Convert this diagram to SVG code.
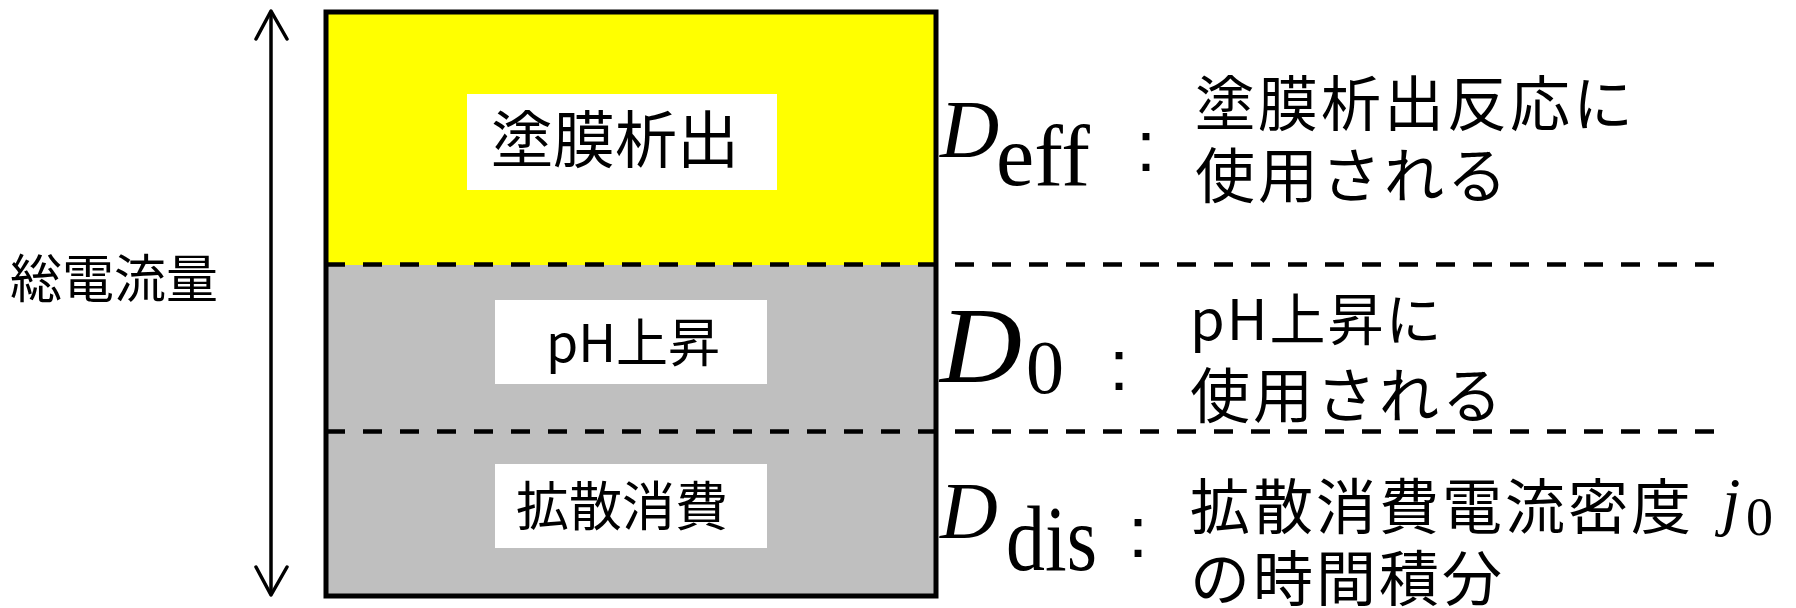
<svg xmlns="http://www.w3.org/2000/svg" width="1796" height="608" viewBox="0 0 1796 608">
<style>
.jp{font-family:"Noto Sans CJK JP","Noto Sans",sans-serif;fill:#000}
.tex{font-family:"Liberation Serif","Times New Roman",serif;fill:#000}
.it{font-style:italic}
.col{font-family:"Liberation Sans",Arial,sans-serif;fill:#000}
.dash{stroke:#000;stroke-width:4.5;stroke-dasharray:19 18;fill:none}
.lbl{fill:#fff}
.ax{stroke:#000;stroke-width:3.5;fill:none;stroke-linecap:round;stroke-linejoin:round}
</style>
<rect width="1796" height="608" fill="#fff"/>
<g id="bar">
<rect x="326" y="12" width="610" height="253" fill="#ffff00"/>
<rect x="326" y="265" width="610" height="331" fill="#bfbfbf"/>
<rect x="326" y="12" width="610" height="584" fill="none" stroke="#000" stroke-width="5"/>
</g>
<g id="connectors">
<line class="dash" x1="326" y1="264.5" x2="1727" y2="264.5"/>
<line class="dash" x1="326" y1="431.5" x2="1727" y2="431.5"/>
<line class="ax" x1="271" y1="12" x2="271" y2="594"/>
<polyline class="ax" points="256,39 271,11 287,39"/>
<polyline class="ax" points="256,567 271,595 287,567"/>
</g>
<g id="total">
<text class="jp" x="10" y="298" font-size="52">総電流量</text>
</g>
<g id="node-coating">
<rect class="lbl" x="467" y="94" width="310" height="96"/>
<text class="jp" x="615" y="163" font-size="62" text-anchor="middle">塗膜析出</text>
</g>
<g id="node-ph">
<rect class="lbl" x="495" y="300" width="272" height="84"/>
<text class="jp" x="633" y="362" font-size="52" text-anchor="middle">pH上昇</text>
</g>
<g id="node-dis">
<rect class="lbl" x="495" y="464" width="272" height="84"/>
<text class="jp" x="622" y="526" font-size="53" text-anchor="middle">拡散消費</text>
</g>
<g id="desc-eff">
<text class="tex it" x="940" y="157" font-size="82">D</text>
<text class="tex" x="996" y="185" font-size="86" textLength="94" lengthAdjust="spacingAndGlyphs">eff</text>
<text class="col" x="1136" y="171" font-size="72">:</text>
<text class="jp" x="1195" y="126" font-size="60" letter-spacing="3">塗膜析出反応に</text>
<text class="jp" x="1195" y="198" font-size="60" letter-spacing="3">使用される</text>
</g>
<g id="desc-0">
<text class="tex it" x="940" y="382" font-size="108" textLength="82" lengthAdjust="spacingAndGlyphs">D</text>
<text class="tex" x="1026" y="393" font-size="76">0</text>
<text class="col" x="1109" y="390" font-size="72">:</text>
<text class="jp" x="1190" y="340" font-size="56" letter-spacing="2">pH上昇に</text>
<text class="jp" x="1190" y="418" font-size="60" letter-spacing="3">使用される</text>
</g>
<g id="desc-dis">
<text class="tex it" x="940" y="538" font-size="80">D</text>
<text class="tex" x="1006" y="570" font-size="94" textLength="91" lengthAdjust="spacingAndGlyphs">dis</text>
<text class="col" x="1128" y="557" font-size="72">:</text>
<text class="jp" x="1190" y="529" font-size="60" letter-spacing="3">拡散消費電流密度</text>
<text class="tex it" x="1722" y="523" font-size="66">j</text>
<text class="tex" x="1746" y="535" font-size="54">0</text>
<text class="jp" x="1190" y="601" font-size="60" letter-spacing="3">の時間積分</text>
</g>
</svg>
